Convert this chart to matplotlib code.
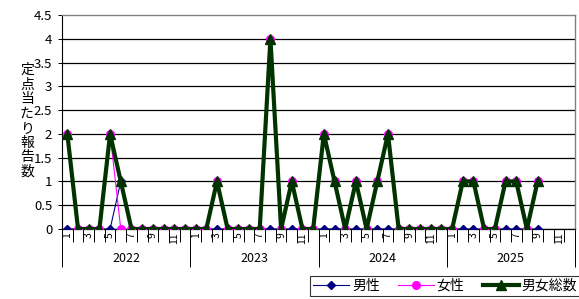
import numpy as np
import matplotlib
matplotlib.use("Agg")
import matplotlib.pyplot as plt
from matplotlib.transforms import blended_transform_factory

plt.rcParams['font.family'] = ['Noto Sans CJK JP', 'DejaVu Sans']

years = ['2022', '2023', '2024', '2025']
months = list(range(1, 13))

# Jan 2022 .. Sep 2025
male = [0, 0, 0, 0, 0, 1, 0, 0, 0, 0, 0, 0,
        0, 0, 0, 0, 0, 0, 0, 0, 0, 0, 0, 0,
        0, 0, 0, 0, 0, 0, 0, 0, 0, 0, 0, 0,
        0, 0, 0, 0, 0, 0, 0, 0, 0]
female = [2, 0, 0, 0, 2, 0, 0, 0, 0, 0, 0, 0,
          0, 0, 1, 0, 0, 0, 0, 4, 0, 1, 0, 0,
          2, 1, 0, 1, 0, 1, 2, 0, 0, 0, 0, 0,
          0, 1, 1, 0, 0, 1, 1, 0, 1]
total = [2, 0, 0, 0, 2, 1, 0, 0, 0, 0, 0, 0,
         0, 0, 1, 0, 0, 0, 0, 4, 0, 1, 0, 0,
         2, 1, 0, 1, 0, 1, 2, 0, 0, 0, 0, 0,
         0, 1, 1, 0, 0, 1, 1, 0, 1]

W, H = 579, 299
fig = plt.figure(figsize=(W / 100, H / 100), dpi=100)
left, right, top, bottom = 62, 575, 15, 229
ax = fig.add_axes([left / W, 1 - bottom / H, (right - left) / W, (bottom - top) / H])

n = len(years) * 12
x = np.arange(len(total))
ax.plot(x, male, color='#000080', lw=0.8, marker='D', ms=4, zorder=3, label='男性')
ax.plot(x, female, color='#FF00FF', lw=0.8, marker='o', ms=5.5, zorder=4, label='女性')
ax.plot(x, total, color='#003300', lw=3, marker='^', ms=6.5, zorder=5, label='男女総数')

ax.set_xlim(-0.5, n - 0.5)
ax.set_ylim(0, 4.5)
yt = np.arange(0, 4.51, 0.5)
ax.set_yticks(yt)
ax.set_yticklabels(['%g' % v for v in yt], fontsize=9.5)
ax.tick_params(axis='y', length=3, width=0.7, pad=4)
for v in yt[:-1]:
    ax.axhline(v, color='black', lw=0.9, zorder=1)

# category tick marks: months short, years long
ax.set_xticks([-0.5 + 12 * k for k in range(len(years) + 1)])
ax.set_xticks(np.arange(-0.5, n, 1), minor=True)
ax.set_xticklabels([])
ax.tick_params(axis='x', which='major', length=27, width=0.7, color='black')
ax.tick_params(axis='x', which='minor', length=9.5, width=0.7, color='black')

for s in ['top', 'right']:
    ax.spines[s].set_color('#808080')
    ax.spines[s].set_linewidth(1)
ax.spines['left'].set_linewidth(0.8)
ax.spines['bottom'].set_linewidth(0.9)

trans = blended_transform_factory(ax.transData, ax.transAxes)
ph = bottom - top
for k, yr in enumerate(years):
    for m in months:
        if m % 2 == 1:
            ax.text(12 * k + m - 1, -3 / ph, str(m), transform=trans, rotation=90,
                    ha='center', va='top', fontsize=7.5)
    ax.text(12 * k + 5.5, -29 / ph, yr, transform=trans, ha='center', va='center',
            fontsize=9)

fig.text(27 / W, 1 - 121 / H, '\n'.join('定点当たり報告数'), ha='center', va='center',
         fontsize=10, linespacing=1.05)

leg = fig.legend(loc='center', bbox_to_anchor=(445 / W, 1 - 286 / H), ncol=3,
                 fontsize=10, frameon=True, fancybox=False, edgecolor='black',
                 handlelength=2.6, columnspacing=1.3, handletextpad=0.2,
                 borderpad=0.2, borderaxespad=0)
leg.get_frame().set_linewidth(0.8)

fig.savefig('out.png', dpi=100)
